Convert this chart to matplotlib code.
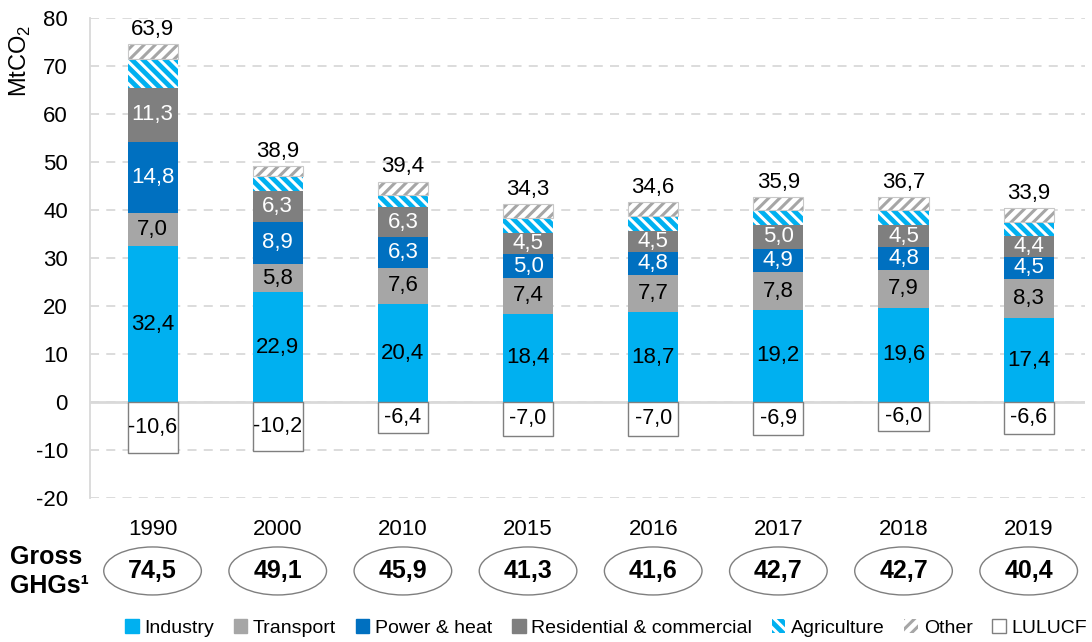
import numpy as np
import matplotlib
matplotlib.use("Agg")
from matplotlib import pyplot as plt
from matplotlib.patches import Ellipse, Patch
from matplotlib.transforms import blended_transform_factory

plt.rcParams['font.family'] = ['Liberation Sans', 'DejaVu Sans']
plt.rcParams['mathtext.fontset'] = 'custom'
plt.rcParams['mathtext.rm'] = 'Liberation Sans'
plt.rcParams['axes.unicode_minus'] = False
plt.rcParams['hatch.linewidth'] = 2.2

years = ["1990", "2000", "2010", "2015", "2016", "2017", "2018", "2019"]
industry = [32.4, 22.9, 20.4, 18.4, 18.7, 19.2, 19.6, 17.4]
transport = [7.0, 5.8, 7.6, 7.4, 7.7, 7.8, 7.9, 8.3]
power = [14.8, 8.9, 6.3, 5.0, 4.8, 4.9, 4.8, 4.5]
residential = [11.3, 6.3, 6.3, 4.5, 4.5, 5.0, 4.5, 4.4]
agriculture = [6.0, 3.2, 2.6, 3.0, 3.0, 3.0, 3.1, 3.0]
other = [3.0, 2.0, 2.7, 3.0, 2.9, 2.8, 2.8, 2.8]
lulucf = [-10.6, -10.2, -6.4, -7.0, -7.0, -6.9, -6.0, -6.6]
gross = [74.5, 49.1, 45.9, 41.3, 41.6, 42.7, 42.7, 40.4]
net = [63.9, 38.9, 39.4, 34.3, 34.6, 35.9, 36.7, 33.9]


def fmt(v):
    return f"{v:.1f}".replace(".", ",")


fig = plt.figure(figsize=(10.92, 6.42), dpi=100)
ax = fig.add_axes([0.0824, 0.2243, 0.9112, 0.7477])

x = np.arange(len(years))
w = 0.4
bottom = np.zeros(len(years))
fs = 16

stack = [
    ("Industry", industry, dict(color="#00B0F0"), "black"),
    ("Transport", transport, dict(color="#A6A6A6"), "black"),
    ("Power & heat", power, dict(color="#0070C0"), "white"),
    ("Residential & commercial", residential, dict(color="#7F7F7F"), "white"),
    ("Agriculture", agriculture, dict(facecolor="#00B0F0", edgecolor="white", hatch="\\\\\\", linewidth=0), None),
    ("Other", other, dict(facecolor="white", edgecolor="#A6A6A6", hatch="///", linewidth=0), None),
]

handles = []
for name, vals, style, tcol in stack:
    vals = np.array(vals)
    ax.bar(x, vals, w, bottom=bottom, zorder=3, **style)
    if tcol is not None:
        for xi, b, v in zip(x, bottom, vals):
            ax.text(xi, b + v / 2, fmt(v), ha="center", va="center",
                    color=tcol, fontsize=fs, zorder=4)
    bottom = bottom + vals
    handles.append(Patch(label=name, **style))

# outline around the "Other" block
ax.bar(x, other, w, bottom=bottom - np.array(other), facecolor="none",
       edgecolor="#C8C8C8", linewidth=0.8, zorder=3)

ax.bar(x, lulucf, w, facecolor="white", edgecolor="#7F7F7F", linewidth=1, zorder=3)
for xi, v in zip(x, lulucf):
    ax.text(xi, v / 2, fmt(v), ha="center", va="center", fontsize=15.5, zorder=4)
handles.append(Patch(facecolor="white", edgecolor="#7F7F7F", linewidth=1, label="LULUCF"))

for xi, g, n in zip(x, gross, net):
    ax.annotate(fmt(n), (xi, g), xytext=(0, 3), textcoords="offset points",
                ha="center", va="bottom", fontsize=fs)

ax.set_ylim(-20, 80)
ax.set_xlim(-0.5, 7.45)
ax.set_yticks(range(-20, 81, 10))
ax.set_xticks(x)
ax.set_xticklabels(years)
ax.tick_params(axis="both", length=0, labelsize=fs)
ax.tick_params(axis="x", pad=15)
ax.tick_params(axis="y", pad=16)

ax.grid(axis="y", color="#D9D9D9", linestyle=(0, (5, 4)), linewidth=1.3, zorder=0)
ax.axhline(0, color="#D9D9D9", linewidth=2, zorder=1)
for s in ["top", "right", "bottom"]:
    ax.spines[s].set_visible(False)
ax.spines["left"].set_color("#D9D9D9")
ax.spines["left"].set_linewidth(1.3)

fig.text(0.019, 0.905, "MtCO$_2$", rotation=90, ha="center", va="center", fontsize=17)

trans = blended_transform_factory(ax.transData, ax.transAxes)
for xi, g in zip(x, gross):
    ax.add_patch(Ellipse((xi, -0.152), 0.78, 0.1, transform=trans,
                         facecolor="white", edgecolor="#7F7F7F", linewidth=1, clip_on=False))
    ax.text(xi, -0.152, fmt(g), transform=trans, ha="center", va="center",
            fontsize=18, fontweight="bold")

fig.text(0.009, 0.11, "Gross\nGHGs\u00b9", ha="left", va="center", fontsize=18,
         fontweight="bold", linespacing=1.25)

fig.legend(handles=handles, loc="center", bbox_to_anchor=(0.555, 0.022), ncol=7,
           frameon=False, fontsize=14, handlelength=0.7, handleheight=0.7,
           handletextpad=0.3, columnspacing=1.0, borderaxespad=0)

fig.savefig("out.png", dpi=100)
